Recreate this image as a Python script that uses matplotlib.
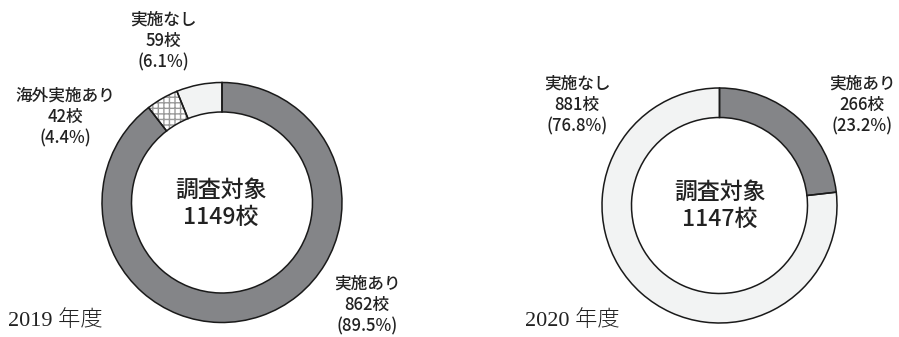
import matplotlib
matplotlib.use("Agg")
import matplotlib.pyplot as plt

plt.rcParams['font.family'] = ['Noto Sans CJK JP', 'DejaVu Sans']

# 2019年度: 実施あり / 海外実施あり / 実施なし
labels_2019 = ["実施あり", "海外実施あり", "実施なし"]
schools_2019 = [862, 42, 59]
pct_2019 = [89.5, 4.4, 6.1]
total_2019 = 1149

# 2020年度: 実施あり / 実施なし
labels_2020 = ["実施あり", "実施なし"]
schools_2020 = [266, 881]
pct_2020 = [23.2, 76.8]
total_2020 = 1147

DARK = "#848588"
LIGHT = "#f2f3f3"
TXT = "#222222"

W, H = 899, 337
fig = plt.figure(figsize=(W / 100, H / 100), dpi=100)
ax = fig.add_axes([0, 0, 1, 1])


def donut(values, colors, hatches, center, radius, width):
    # 塗りとハッチ(灰色の格子)
    wedges, _ = ax.pie(values, colors=colors, startangle=90, counterclock=False,
                       radius=radius, center=center, frame=True,
                       wedgeprops=dict(width=width, linewidth=0, edgecolor="#9a9a9a"))
    for w, h in zip(wedges, hatches):
        if h:
            w.set_hatch(h)
        else:
            w.set_edgecolor(w.get_facecolor())
    # 黒い輪郭線
    ax.pie(values, colors=["none"] * len(values), startangle=90, counterclock=False,
           radius=radius, center=center, frame=True,
           wedgeprops=dict(width=width, linewidth=1.1, edgecolor="#1a1a1a", fill=False))


def label(x, y, name, n, p, size=12):
    ax.text(x, H - y, f"{name}\n{n}校\n({p}%)", ha="center", va="center",
            fontsize=size, color=TXT, linespacing=1.25, fontweight="medium")


def center_text(x, y, total):
    ax.text(x, H - y, f"調査対象\n{total}校", ha="center", va="center",
            fontsize=16.5, color=TXT, linespacing=1.2, fontweight="medium")


def year_text(x, y, s):
    ax.text(x, H - y, s, ha="left", va="center", fontsize=16, color=TXT,
            family=['Liberation Serif', 'Noto Sans CJK JP'], fontweight="light")


# 2019年度
donut(schools_2019, [DARK, "white", LIGHT], [None, "+++", None],
      (222, H - 202.5), 120, 29.5)
center_text(221, 204, total_2019)
label(367, 305, labels_2019[0], schools_2019[0], pct_2019[0])
label(65, 117, labels_2019[1], schools_2019[1], pct_2019[1])
label(163, 41, labels_2019[2], schools_2019[2], pct_2019[2])
year_text(8, 321, "2019 年度")

# 2020年度
donut(schools_2020, [DARK, LIGHT], [None, None],
      (719.5, H - 205.5), 117.5, 29.5)
center_text(720, 206, total_2020)
label(862, 105, labels_2020[0], schools_2020[0], pct_2020[0])
label(577, 105, labels_2020[1], schools_2020[1], pct_2020[1])
year_text(525, 321, "2020 年度")

ax.set_xlim(0, W)
ax.set_ylim(0, H)
ax.set_aspect("auto")
ax.axis("off")

fig.savefig("out.png", dpi=100)
